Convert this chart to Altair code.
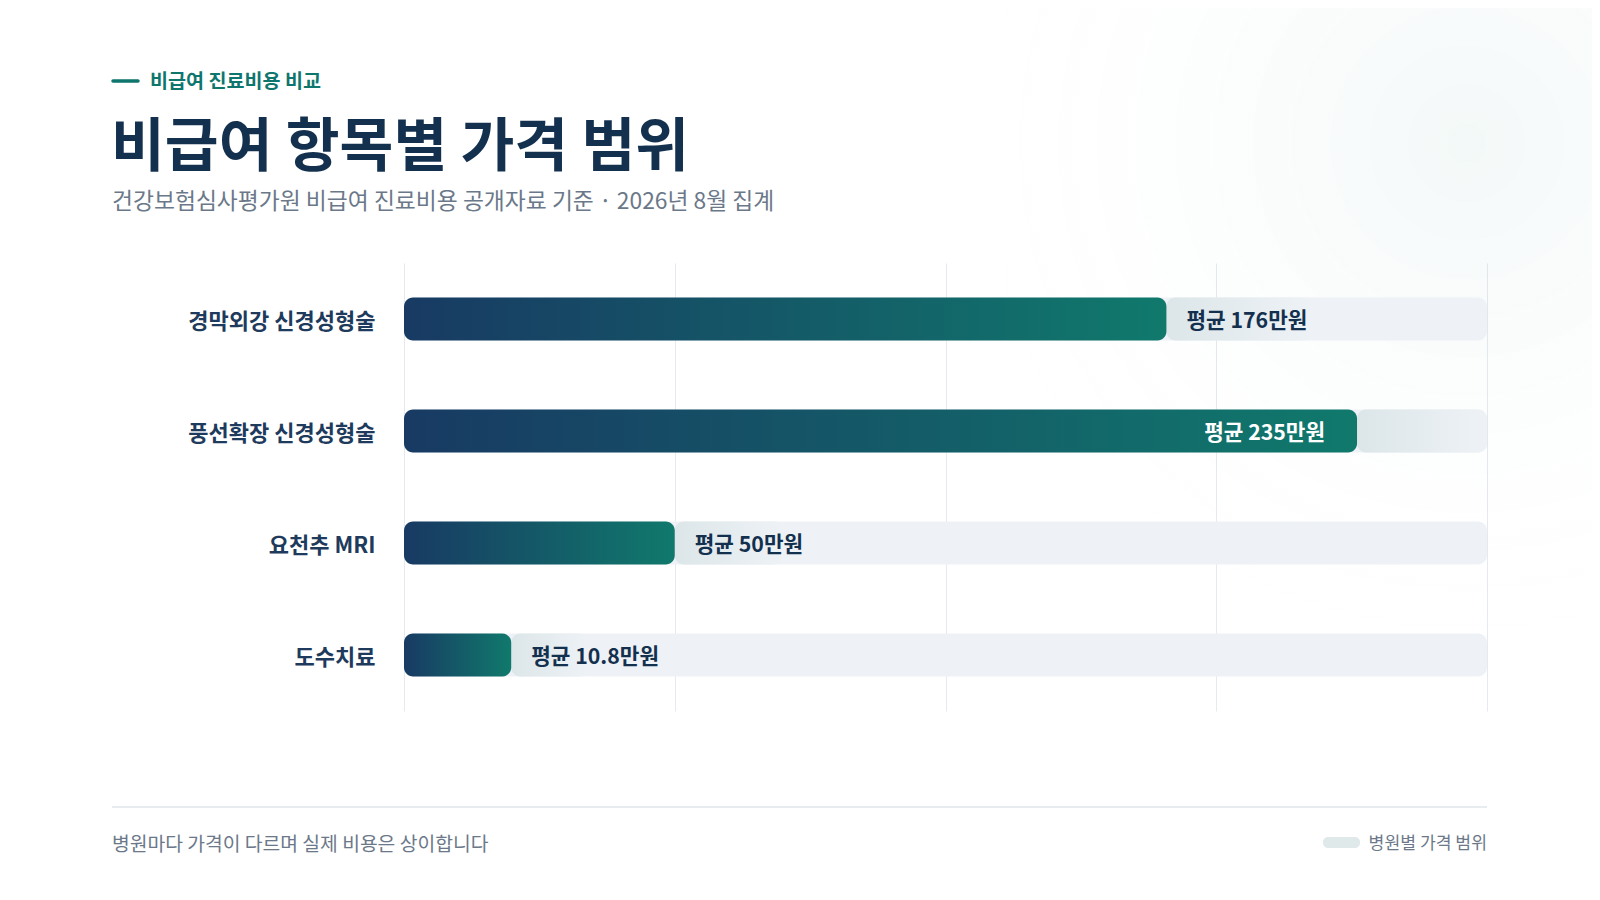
import pandas as pd
import altair as alt

# Data
items = ["경막외강 신경성형술", "풍선확장 신경성형술", "요천추 MRI", "도수치료"]
avg_labels = ["평균 176만원", "평균 235만원", "평균 50만원", "평균 10.8만원"]
avg_pct = [70.4, 88.0, 25.0, 9.9]        # bar length, % of the axis
range_end_pct = [84, 100, 35, 17]        # upper end of the hospital price range
grid_ticks = [0, 25, 50, 75, 100]

kicker = "비급여 진료비용 비교"
title = "비급여 항목별 가격 범위"
subtitle = "건강보험심사평가원 비급여 진료비용 공개자료 기준 · 2026년 8월 집계"
footnote = "병원마다 가격이 다르며 실제 비용은 상이합니다"
legend_label = "병원별 가격 범위"

FONT = "Noto Sans CJK KR"
NAVY = "#14304f"
TEAL = "#0f766e"
GRAY = "#6b7889"

W, H = 1083, 448

df = pd.DataFrame({
    "item": items,
    "label": avg_labels,
    "avg": avg_pct,
    "range_end": range_end_pct,
})
df["zero"] = 0
df["full"] = 100
df["inside"] = df["avg"] > 80

x_axis = alt.Axis(values=grid_ticks, labels=False, ticks=False, domain=False,
                  grid=True, gridColor="#e6e9ed", gridWidth=1, title=None)
x_scale = alt.Scale(domain=[0, 100], nice=False, zero=True)
y_enc = alt.Y("item:N", sort=items, title=None,
              scale=alt.Scale(paddingInner=0, paddingOuter=0),
              axis=alt.Axis(labelFont=FONT, labelFontSize=22, labelFontWeight="bold",
                            labelColor="#1e3a5c", labelPadding=29, labelOffset=3,
                            labelLimit=360, domain=False, ticks=False, grid=False))

base = alt.Chart(df)

# faint glow in the top right corner
glow = alt.Chart(pd.DataFrame({"k": [1]})).mark_rect(
    fill=alt.RadialGradient(
        gradient="radial", x1=0.75, y1=0.2, x2=0.75, y2=0.2, r1=0, r2=0.75,
        stops=[alt.GradientStop(color="rgba(15,118,110,0.05)", offset=0),
               alt.GradientStop(color="rgba(255,255,255,0)", offset=1)])
).encode(x=alt.value(600), x2=alt.value(1188), y=alt.value(-255), y2=alt.value(420))

track = base.mark_bar(color="#eef2f6", cornerRadius=9, size=43).encode(
    x=alt.X("zero:Q", scale=x_scale, axis=x_axis), x2="full:Q", y=y_enc)

price_range = base.mark_bar(
    cornerRadius=9, size=43,
    color=alt.LinearGradient(
        gradient="linear", x1=0, y1=0, x2=1, y2=0,
        stops=[alt.GradientStop(color="#dce6e8", offset=0),
               alt.GradientStop(color="#eef2f6", offset=1)])
).encode(x="avg:Q", x2="range_end:Q", y=y_enc)

bars = base.mark_bar(
    cornerRadius=9, size=43,
    color=alt.LinearGradient(
        gradient="linear", x1=0, y1=0, x2=1, y2=0,
        stops=[alt.GradientStop(color="#183a63", offset=0),
               alt.GradientStop(color="#10796c", offset=1)])
).encode(x="zero:Q", x2="avg:Q", y=y_enc)

labels_out = base.transform_filter("!datum.inside").mark_text(
    font=FONT, fontSize=21.3, fontWeight="bold", color=NAVY, align="left", dx=20, dy=3
).encode(x="avg:Q", y=y_enc, text="label:N")

labels_in = base.transform_filter("datum.inside").mark_text(
    font=FONT, fontSize=21.3, fontWeight="bold", color="white", align="right", dx=-32, dy=3
).encode(x="avg:Q", y=y_enc, text="label:N")


def note(text, x, y, size, color, weight="normal", align="left"):
    return alt.Chart(pd.DataFrame({"t": [text]})).mark_text(
        font=FONT, fontSize=size, fontWeight=weight, color=color,
        align=align, baseline="middle"
    ).encode(x=alt.value(x), y=alt.value(y), text="t:N")


one = pd.DataFrame({"k": [1]})
kicker_dash = alt.Chart(one).mark_rule(color=TEAL, strokeWidth=3.5, strokeCap="round").encode(
    x=alt.value(-291), x2=alt.value(-266), y=alt.value(-182))
footer_line = alt.Chart(one).mark_rule(color="#e8ebef", strokeWidth=2).encode(
    x=alt.value(-292), x2=alt.value(W), y=alt.value(544))
swatch = alt.Chart(one).mark_rect(color="#e0e9e9", cornerRadius=5).encode(
    x=alt.value(919), x2=alt.value(956), y=alt.value(574), y2=alt.value(585))

chart = alt.layer(
    glow, track, price_range, bars, labels_out, labels_in,
    kicker_dash,
    note(kicker, -254, -181, 19.6, TEAL, "bold"),
    note(title, -293, -115, 58.5, NAVY, "bold"),
    note(subtitle, -292, -61, 22.8, GRAY),
    footer_line,
    note(footnote, -292, 582, 19.3, GRAY),
    swatch,
    note(legend_label, W, 581, 17.2, GRAY, align="right"),
).properties(
    width=W, height=H,
    autosize="none",
    padding={"left": 396, "top": 255, "right": 105, "bottom": 181},
    background="white",
).configure_view(stroke=None)

chart.save("out.html", embed_options={"renderer": "svg", "actions": False})
